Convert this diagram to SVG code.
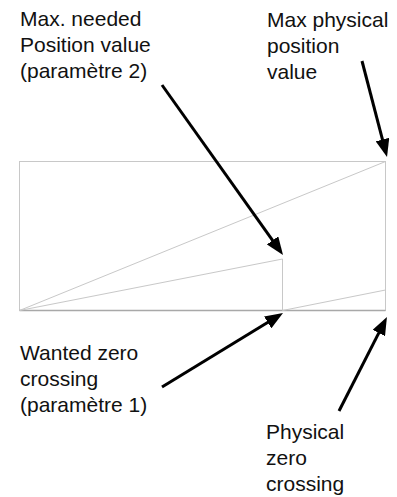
<svg xmlns="http://www.w3.org/2000/svg" width="397" height="497" viewBox="0 0 397 497">
<style>
.t{font-family:"Liberation Sans",Arial,sans-serif;font-size:21px;fill:#111}
.g{stroke:#c8c8c8;stroke-width:1;fill:none}
.a{stroke:#000;stroke-width:3;fill:none}
</style>
<defs>
<marker id="ah" markerUnits="userSpaceOnUse" markerWidth="18" markerHeight="14" viewBox="0 0 18 14" refX="8" refY="7" orient="auto">
<path d="M0,0 L18,7 L0,14 z" fill="#000"/>
</marker>
</defs>
<rect width="397" height="497" fill="#fff"/>
<g id="chart">
<rect x="19.5" y="161.5" width="366" height="149" class="g"/>
<line x1="19.5" y1="310.5" x2="385.5" y2="310.5" stroke="#a8a8a8" stroke-width="1.5"/>
<line x1="19.5" y1="310.5" x2="385.5" y2="161.5" class="g"/>
<polyline points="19.5,310.5 282.5,259 282.5,310.5" class="g"/>
<line x1="282.5" y1="310.5" x2="385.5" y2="290" class="g"/>
</g>
<g id="label-max-needed">
<text class="t" x="20" y="26">Max. needed</text>
<text class="t" x="20" y="52">Position value</text>
<text class="t" x="20" y="78">(paramètre 2)</text>
</g>
<g id="label-max-physical">
<text class="t" x="267" y="26.5">Max physical</text>
<text class="t" x="267" y="52.5">position</text>
<text class="t" x="267" y="78.5">value</text>
</g>
<g id="label-wanted-zero">
<text class="t" x="20" y="360">Wanted zero</text>
<text class="t" x="20" y="386">crossing</text>
<text class="t" x="20" y="412">(paramètre 1)</text>
</g>
<g id="label-physical-zero">
<text class="t" x="266" y="438.5">Physical</text>
<text class="t" x="266" y="464.5">zero</text>
<text class="t" x="266" y="490.5">crossing</text>
</g>
<g id="connectors">
<line x1="162" y1="85" x2="277.2" y2="246.9" class="a" marker-end="url(#ah)"/>
<line x1="362" y1="61" x2="384.5" y2="147.3" class="a" marker-end="url(#ah)"/>
<line x1="162" y1="387" x2="274.5" y2="318.2" class="a" marker-end="url(#ah)"/>
<line x1="339" y1="411" x2="382.4" y2="325.9" class="a" marker-end="url(#ah)"/>
</g>
</svg>
